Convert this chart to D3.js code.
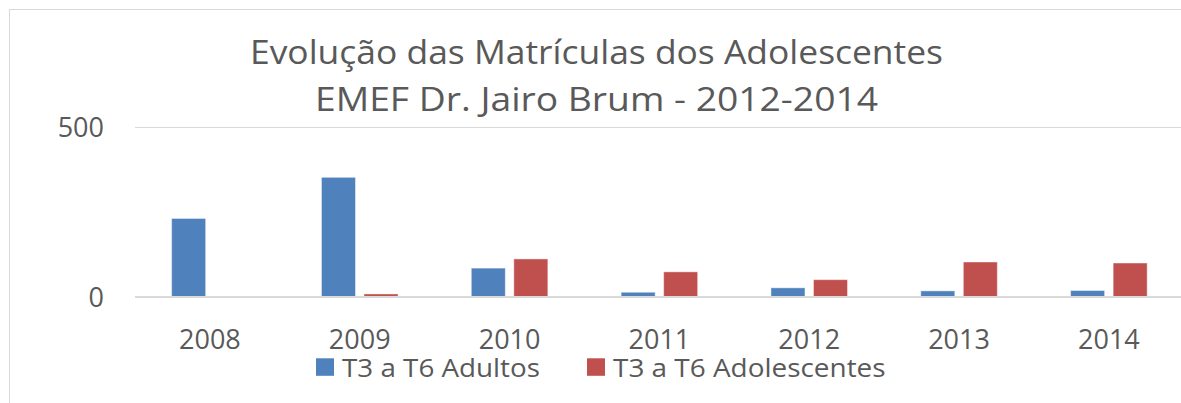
<!DOCTYPE html>
<html><head><meta charset="utf-8">
<script src="https://cdn.jsdelivr.net/npm/d3@7"></script>
<style>
body{margin:0;background:#fff;overflow:hidden}
svg{display:block}
text{font-family:"Open Sans","Noto Sans",sans-serif;fill:#595959}
</style>
</head><body>
<script>
const categories = ["2008","2009","2010","2011","2012","2013","2014"];
const seriesNames = ["T3 a T6 Adultos","T3 a T6 Adolescentes"];
const adultos = [231,352,85,14,27,18,19];
const adolescentes = [0,9,112,74,51,103,100];
const yTicks = [0,500];
const titleLines = ["Evolução das Matrículas dos Adolescentes","EMEF Dr. Jairo Brum - 2012-2014"];
const colors = ["#4F81BD","#C0504D"];

const W = 1181, H = 403;
const svg = d3.select("body").append("svg").attr("width", W).attr("height", H);

// chart border
svg.append("rect").attr("x", 9.5).attr("y", 9.5).attr("width", 1300).attr("height", 600)
  .attr("fill", "none").attr("stroke", "#d9d9d9").attr("stroke-width", 1);

const plotLeft = 135, plotRight = 1183.8;
const x0 = d3.scaleBand().domain(categories).range([plotLeft, plotRight])
  .paddingInner(0.489).paddingOuter(0.2445);
const x1 = d3.scaleBand().domain(seriesNames).range([0, x0.bandwidth()]).paddingInner(0.2);
const y = d3.scaleLinear().domain([0, 500]).range([297, 127]);

// gridline at 500
const grid = svg.append("g").attr("transform", `translate(${plotLeft},0)`)
  .call(d3.axisLeft(y).tickValues(yTicks.filter(d => d > 0)).tickSize(-(W - plotLeft + 20)).tickFormat(""));
grid.select(".domain").remove();
grid.selectAll("line").attr("stroke", "#d9d9d9").attr("stroke-width", 1.2);

// y labels
const yAx = svg.append("g").attr("transform", `translate(${plotLeft},0)`)
  .call(d3.axisLeft(y).tickValues(yTicks).tickSize(0).tickPadding(31));
yAx.select(".domain").remove();
yAx.selectAll("text").attr("font-size", 27).attr("font-family", '"Open Sans",sans-serif').attr("fill", "#595959").attr("dy", "0.36em");

// bars
const data = categories.map((c, i) => ({cat: c, vals: [adultos[i], adolescentes[i]]}));
const groups = svg.append("g").selectAll("g").data(data).join("g")
  .attr("transform", d => `translate(${x0(d.cat)},0)`);
groups.selectAll("rect").data(d => d.vals.map((v, k) => ({k, v}))).join("rect")
  .filter(d => d.v > 0)
  .attr("x", d => x1(seriesNames[d.k]))
  .attr("width", x1.bandwidth())
  .attr("y", d => y(d.v))
  .attr("height", d => y(0) - y(d.v))
  .attr("fill", d => colors[d.k])
  .attr("stroke", "rgba(255,255,255,0.45)")
  .attr("stroke-width", 1);

// x axis
const xAx = svg.append("g").attr("transform", `translate(0,${y(0)})`)
  .call(d3.axisBottom(x0).tickSize(0));
xAx.select(".domain").remove();
xAx.selectAll("text").attr("font-size", 27).attr("font-family", '"Open Sans",sans-serif').attr("fill", "#595959")
  .attr("y", 52).attr("dy", 0);
svg.append("line").attr("x1", plotLeft).attr("x2", W + 10).attr("y1", y(0)).attr("y2", y(0))
  .attr("stroke", "#d9d9d9").attr("stroke-width", 2);

// title
const titleBase = [64.3, 111];
const titleLen = [693, 563];
titleLines.forEach((t, i) => {
  svg.append("text").attr("x", 596.5).attr("y", titleBase[i]).attr("text-anchor", "middle")
    .attr("font-size", 32.5).attr("textLength", titleLen[i]).attr("lengthAdjust", "spacingAndGlyphs").text(t);
});

// legend
const legX = [316, 587];
const legTextLen = [198, 272.6];
seriesNames.forEach((s, i) => {
  svg.append("rect").attr("x", legX[i]).attr("y", 358.3).attr("width", 18).attr("height", 17.5).attr("fill", colors[i]);
  svg.append("text").attr("x", legX[i] + 26).attr("y", 376.5).attr("font-size", 26)
    .attr("textLength", legTextLen[i]).attr("lengthAdjust", "spacingAndGlyphs").text(s);
});
</script>
</body></html>
